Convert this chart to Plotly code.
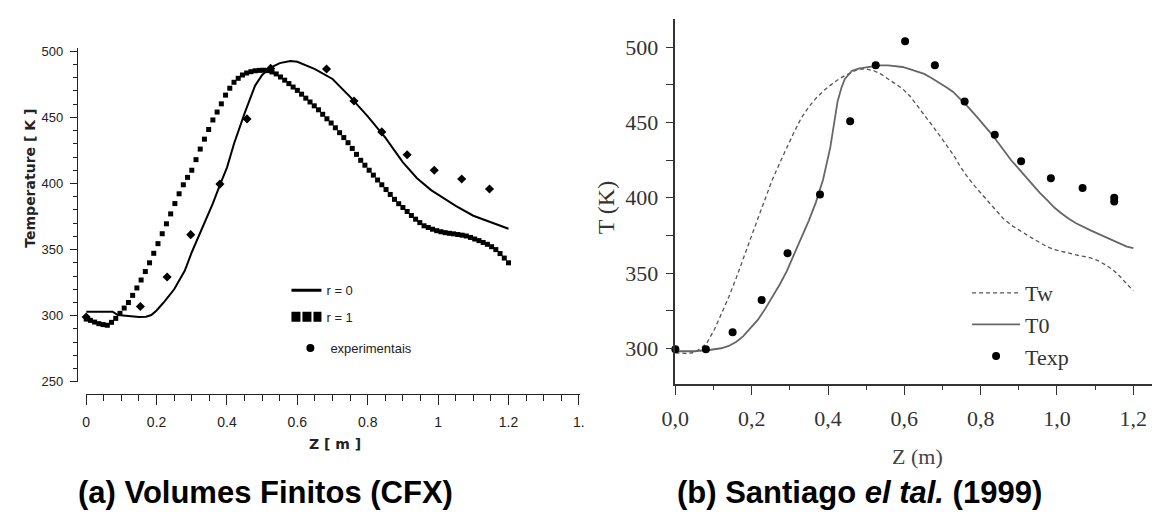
import plotly.graph_objects as go

# ---------------- data: panel (a) Volumes Finitos (CFX) ----------------
z_r0 = [0.0, 0.04, 0.075, 0.09, 0.12, 0.15, 0.17, 0.185, 0.2, 0.22, 0.25, 0.28, 0.3, 0.33,
        0.36, 0.38, 0.4, 0.42, 0.45, 0.48, 0.5, 0.52, 0.55, 0.58, 0.6, 0.65, 0.7, 0.75,
        0.8, 0.85, 0.9, 0.94, 0.98, 1.0, 1.05, 1.1, 1.15, 1.2]
t_r0 = [303, 303, 303, 300.5, 299.5, 299, 299.2, 300.5, 304, 310, 320, 334, 348, 366,
        385, 399, 412, 430, 453, 474, 482, 487, 491, 492.6, 492, 486.5, 479, 465.5,
        450.7, 434.7, 416, 404, 395, 391.6, 383, 375.6, 371, 365.8]

z_r1 = [0.000, 0.012, 0.024, 0.036, 0.048, 0.060, 0.072, 0.084, 0.096, 0.108,
        0.120, 0.132, 0.144, 0.156, 0.168, 0.180, 0.192, 0.204, 0.216, 0.228,
        0.240, 0.252, 0.264, 0.276, 0.288, 0.300, 0.312, 0.324, 0.336, 0.348,
        0.360, 0.372, 0.384, 0.396, 0.408, 0.420, 0.432, 0.444, 0.456, 0.468,
        0.480, 0.492, 0.504, 0.516, 0.528, 0.540, 0.552, 0.564, 0.576, 0.588,
        0.600, 0.612, 0.624, 0.636, 0.648, 0.660, 0.672, 0.684, 0.696, 0.708,
        0.720, 0.732, 0.744, 0.756, 0.768, 0.780, 0.792, 0.804, 0.816, 0.828,
        0.840, 0.852, 0.864, 0.876, 0.888, 0.900, 0.912, 0.924, 0.936, 0.948,
        0.960, 0.972, 0.984, 0.996, 1.008, 1.020, 1.032, 1.044, 1.056, 1.068,
        1.080, 1.092, 1.104, 1.116, 1.128, 1.140, 1.152, 1.164, 1.176, 1.188, 1.200]
t_r1 = [297.5, 296.5, 295.2, 294.0, 293.3, 292.8, 295.0, 298.0, 301.8, 305.8,
        310.0, 315.4, 321.0, 327.0, 333.4, 340.0, 347.2, 354.5, 362.0, 369.5,
        377.0, 384.8, 392.2, 399.0, 404.6, 410.0, 418.0, 426.0, 433.5, 440.8,
        448.0, 454.0, 460.2, 466.8, 472.0, 476.5, 479.5, 482.0, 483.5, 484.5,
        485.2, 485.5, 485.6, 485.3, 484.3, 482.8, 480.5, 478.1, 475.5, 472.9,
        470.4, 467.5, 464.5, 461.6, 458.7, 455.7, 452.3, 448.9, 445.7, 442.1,
        438.4, 434.7, 430.8, 426.5, 422.0, 417.5, 413.8, 410.0, 406.3, 402.6,
        399.0, 395.4, 391.7, 388.0, 384.7, 381.8, 378.8, 375.8, 373.0, 370.4,
        368.0, 366.7, 365.4, 364.3, 363.5, 362.8, 362.3, 361.9, 361.4, 360.9,
        360.3, 359.2, 358.0, 356.8, 355.4, 354.0, 352.2, 350.0, 347.0, 343.6, 340.0]

z_exp_a = [0.0, 0.154, 0.23, 0.297, 0.38, 0.457, 0.524, 0.602, 0.683, 0.761, 0.84,
           0.912, 0.989, 1.067, 1.146]
t_exp_a = [299, 307, 329.3, 361.3, 399.5, 448.8, 487, 503.7, 486.5, 462.3, 439,
           421.7, 410, 403.4, 395.8]

# ---------------- data: panel (b) Santiago el tal. (1999) ----------------
z_tw = [0.0, 0.03, 0.045, 0.065, 0.083, 0.102, 0.12, 0.14, 0.16, 0.178, 0.2, 0.216,
        0.235, 0.254, 0.275, 0.292, 0.31, 0.33, 0.35, 0.368, 0.39, 0.406, 0.425, 0.444,
        0.465, 0.48, 0.5, 0.52, 0.54, 0.557, 0.575, 0.595, 0.615, 0.633, 0.65, 0.671,
        0.69, 0.709, 0.73, 0.747, 0.765, 0.785, 0.805, 0.823, 0.84, 0.86, 0.88, 0.9,
        0.92, 0.936, 0.955, 0.974, 0.99, 1.012, 1.03, 1.05, 1.07, 1.088, 1.105, 1.126,
        1.145, 1.164, 1.18, 1.2]
t_tw = [297, 296.5, 297, 299.5, 303.7, 312.3, 322.5, 334, 347, 360, 375, 386,
        399, 412, 424, 433.5, 443, 453, 460.5, 466, 471.5, 474.7, 478.3, 481.2,
        484, 485.5, 485.6, 484.4, 482, 479, 476, 472.5, 467.5, 461.7, 455.5, 448.7,
        442.3, 435.7, 428, 420.6, 414, 407.6, 401.8, 396.8, 391.5, 386, 381.8, 378.4,
        375.5, 373, 370.2, 367.5, 365.8, 364.3, 363.2, 362, 361, 360, 358.5, 355.6,
        352.4, 348, 343.5, 338.3]

z_t0 = [0.0, 0.05, 0.093, 0.12, 0.14, 0.16, 0.178, 0.2, 0.216, 0.235, 0.254, 0.275,
        0.292, 0.31, 0.33, 0.35, 0.368, 0.387, 0.406, 0.415, 0.425, 0.435, 0.444,
        0.463, 0.48, 0.5, 0.52, 0.538, 0.557, 0.576, 0.595, 0.614, 0.633, 0.652,
        0.67, 0.69, 0.71, 0.728, 0.747, 0.766, 0.785, 0.804, 0.823, 0.842, 0.86,
        0.88, 0.9, 0.918, 0.936, 0.955, 0.975, 0.993, 1.012, 1.031, 1.05, 1.069,
        1.088, 1.107, 1.126, 1.145, 1.164, 1.183, 1.2]
t_t0 = [298, 298, 299, 300, 301.5, 304.3, 308, 314, 318.8, 326, 334, 343,
        351.3, 361.5, 373, 385, 396.8, 412, 433.5, 449, 463.9, 473, 479,
        484.4, 485.8, 486.6, 487.4, 488, 488, 487.7, 486.9, 485.5, 484, 482.3,
        479.8, 476.8, 473.5, 470.3, 465.6, 460.6, 455.2, 449.8, 444, 437.9, 431.5,
        424.9, 419.2, 414, 408.5, 403.2, 398.2, 393.5, 389.6, 386, 383.1, 380.5,
        378.3, 376.2, 374, 371.9, 369.7, 367.5, 366.5]

z_exp_b = [0.0, 0.08, 0.15, 0.226, 0.294, 0.379, 0.458, 0.525, 0.602, 0.68, 0.758,
           0.837, 0.906, 0.984, 1.067, 1.15, 1.15]
t_exp_b = [299.4, 299.4, 310.6, 332, 363.2, 402.2, 450.9, 488, 504, 488, 463.9,
           441.8, 424.2, 413, 406.5, 400, 397.6]

# ---------------- tick labels ----------------
xa_ticks = [0, 0.2, 0.4, 0.6, 0.8, 1.0, 1.2, 1.4]
xa_text = ["0", "0.2", "0.4", "0.6", "0.8", "1", "1.2", "1."]
ya_ticks = [250, 300, 350, 400, 450, 500]
xb_ticks = [0, 0.2, 0.4, 0.6, 0.8, 1.0, 1.2]
xb_text = ["0,0", "0,2", "0,4", "0,6", "0,8", "1,0", "1,2"]
yb_ticks = [300, 350, 400, 450, 500]

W, H = 1157, 525
SANS = "Liberation Sans, Arial, sans-serif"
SERIF = "Liberation Serif, Times New Roman, serif"
VERD = "DejaVu Sans, Verdana, sans-serif"

fig = go.Figure()

# ---- panel (a) traces ----
fig.add_trace(go.Scatter(x=z_r0, y=t_r0, mode="lines", line=dict(color="black", width=2),
                         xaxis="x", yaxis="y", showlegend=False, hoverinfo="skip"))
fig.add_trace(go.Scatter(x=z_r1, y=t_r1, mode="markers",
                         marker=dict(symbol="square", size=5, color="black"),
                         xaxis="x", yaxis="y", showlegend=False, cliponaxis=False))
fig.add_trace(go.Scatter(x=z_exp_a, y=t_exp_a, mode="markers",
                         marker=dict(symbol="diamond", size=7, color="black"),
                         xaxis="x", yaxis="y", showlegend=False, cliponaxis=False))
# legend entries for panel (a)
fig.add_trace(go.Scatter(x=[None], y=[None], mode="lines", name="r = 0",
                         line=dict(color="black", width=3), xaxis="x", yaxis="y",
                         legend="legend"))
fig.add_trace(go.Scatter(x=[None], y=[None], mode="lines", name="r = 1",
                         line=dict(color="black", width=10, dash="9px,2px"),
                         xaxis="x", yaxis="y", legend="legend2"))
fig.add_trace(go.Scatter(x=[None], y=[None], mode="markers", name="experimentais",
                         marker=dict(symbol="circle", size=8, color="black"),
                         xaxis="x", yaxis="y", legend="legend3"))

# ---- panel (b) traces ----
fig.add_trace(go.Scatter(x=z_tw, y=t_tw, mode="lines", name="Tw",
                         line=dict(color="#555555", width=1.3, dash="4px,3px"),
                         xaxis="x2", yaxis="y2", legend="legend4"))
fig.add_trace(go.Scatter(x=z_t0, y=t_t0, mode="lines", name="T0",
                         line=dict(color="#666666", width=1.8),
                         xaxis="x2", yaxis="y2", legend="legend4"))
fig.add_trace(go.Scatter(x=z_exp_b, y=t_exp_b, mode="markers", name="Texp",
                         marker=dict(symbol="circle", size=8, color="black"),
                         xaxis="x2", yaxis="y2", legend="legend4", cliponaxis=False))

# ---- geometry (pixels -> paper) ----
def px(xp):
    return xp / W

def py(yp):
    return 1 - yp / H

# panel (a)
xa0, xa_pm = 73.4, 357.8
xa_end = 575
ya_top, ya_250, ya_pk = 45, 386.7, 1.3536
# panel (b)
xb0, xb_pm = 672.4, 388.0
yb_top, yb_bot, yb_300, yb_pk = 15, 388.5, 352.3, 1.54

leg_a = dict(xanchor="left", yanchor="middle", bgcolor="rgba(0,0,0,0)",
             font=dict(family=SANS, size=13, color="#222"),
             itemclick=False, itemdoubleclick=False)

fig.update_layout(
    width=W, height=H, margin=dict(l=0, r=0, t=0, b=0),
    paper_bgcolor="white", plot_bgcolor="white",
    xaxis=dict(domain=[px(xa0), px(xa_end)], range=[0, (xa_end - xa0) / xa_pm],
               anchor="free", position=py(399),
               showline=True, linecolor="#222", linewidth=1.2, showgrid=False, zeroline=False,
               tickmode="array", tickvals=xa_ticks, ticktext=xa_text,
               ticks="outside", ticklen=10, tickwidth=1, tickcolor="#222",
               ticklabelstandoff=5,
               tickfont=dict(family=SANS, size=14, color="#222"),
               minor=dict(tickmode="linear", tick0=0, dtick=0.05, ticks="outside",
                          ticklen=6, tickwidth=1, tickcolor="#222")),
    yaxis=dict(domain=[py(ya_250), py(ya_top)], range=[250, 250 + (ya_250 - ya_top) / ya_pk],
               anchor="free", position=px(64),
               showline=True, linecolor="#222", linewidth=1.2, showgrid=False, zeroline=False,
               tickmode="array", tickvals=ya_ticks,
               ticks="outside", ticklen=7, tickwidth=1, tickcolor="#222",
               ticklabelstandoff=4,
               tickfont=dict(family=SANS, size=13, color="#222"),
               minor=dict(tickmode="linear", tick0=0, dtick=10, ticks="outside",
                          ticklen=4, tickwidth=1, tickcolor="#222")),
    xaxis2=dict(domain=[px(xb0), 1.0], range=[0, (W - xb0) / xb_pm], anchor="y2",
                showline=True, linecolor="#333", linewidth=1.6, showgrid=False, zeroline=False,
                tickmode="array", tickvals=xb_ticks, ticktext=xb_text,
                ticks="outside", ticklen=10, tickwidth=1.4, tickcolor="#333",
                ticklabelstandoff=4,
                tickfont=dict(family=SERIF, size=22, color="#333"),
                minor=dict(tickmode="linear", tick0=0, dtick=0.1, ticks="outside",
                           ticklen=5, tickwidth=1.2, tickcolor="#333")),
    yaxis2=dict(domain=[py(yb_bot), py(yb_top)],
                range=[300 - (yb_bot - yb_300) / yb_pk, 300 + (yb_300 - yb_top) / yb_pk],
                anchor="x2",
                showline=True, linecolor="#333", linewidth=1.6, showgrid=False, zeroline=False,
                tickmode="array", tickvals=yb_ticks,
                ticks="outside", ticklen=8, tickwidth=1.4, tickcolor="#333",
                ticklabelstandoff=3,
                tickfont=dict(family=SERIF, size=22, color="#333"),
                minor=dict(tickmode="linear", tick0=0, dtick=25, ticks="outside",
                           ticklen=8, tickwidth=1.2, tickcolor="#333")),
    legend=dict(x=px(277), y=py(293), **leg_a),
    legend2=dict(x=px(277), y=py(320), **leg_a),
    legend3=dict(x=px(281), y=py(352), **leg_a),
    legend4=dict(x=px(969), y=py(328), xanchor="left", yanchor="middle",
                 bgcolor="rgba(0,0,0,0)", font=dict(family=SERIF, size=22, color="#333"),
                 itemwidth=48, itemclick=False, itemdoubleclick=False),
)

annotations = [
    dict(text="<b>Temperature [ K ]</b>", x=px(16), y=py(178), textangle=-90,
         font=dict(family=VERD, size=14, color="#222")),
    dict(text="<b>Z [ m ]</b>", x=px(326), y=py(450),
         font=dict(family=VERD, size=14, color="#222")),
    dict(text="T (K)", x=px(602), y=py(208), textangle=-90,
         font=dict(family=SERIF, size=24, color="#333")),
    dict(text="Z (m)", x=px(919), y=py(463),
         font=dict(family=SERIF, size=22, color="#444")),
    dict(text="<b>(a) Volumes Finitos (CFX)</b>", x=px(256), y=py(500),
         font=dict(family=SANS, size=31, color="black")),
    dict(text="<b>(b) Santiago <i>el tal.</i> (1999)</b>", x=px(860), y=py(500),
         font=dict(family=SANS, size=31, color="black")),
]
for a in annotations:
    a.update(xref="paper", yref="paper", showarrow=False, xanchor="center", yanchor="middle")
fig.update_layout(annotations=annotations)

fig.write_html("out.html")
